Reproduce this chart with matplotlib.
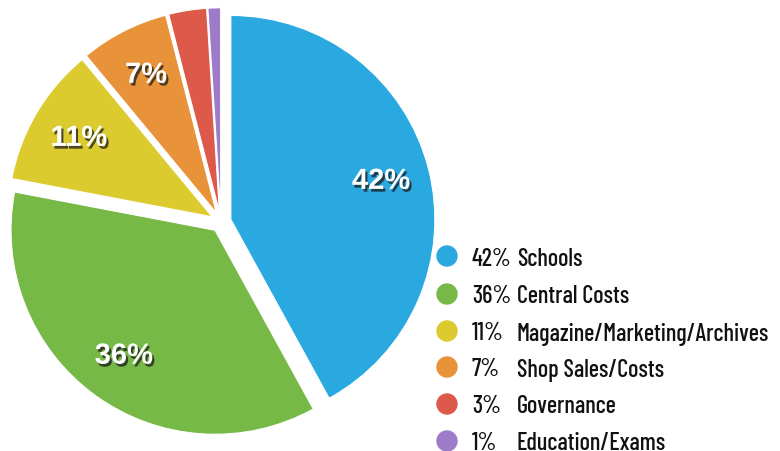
import matplotlib
matplotlib.use("Agg")
import matplotlib.pyplot as plt
import matplotlib.patheffects as pe
from matplotlib.patches import Ellipse

categories = ["Schools", "Central Costs", "Magazine/Marketing/Archives",
              "Shop Sales/Costs", "Governance", "Education/Exams"]
values = [42, 36, 11, 7, 3, 1]
colors = ["#2aa8e0", "#76b947", "#dccb2e", "#e8923a", "#dd5a4a", "#9d7bc9"]

W, H = 780, 452
fig = plt.figure(figsize=(W / 100, H / 100), dpi=100)
ax = fig.add_axes([0, 0, 1, 1])

R = 204.0
cx, cy = 221.0, 223.0  # pixel center (from top)

wedges, texts, autotexts = ax.pie(
    values, colors=colors, startangle=90, counterclock=False,
    explode=[0.05] * len(values), radius=1.0,
    autopct=lambda p: f"{p:.0f}%" if p >= 5 else "", pctdistance=0.76,
    wedgeprops=dict(linewidth=0.8, edgecolor="white"),
    textprops=dict(color="white", fontsize=21, fontweight="bold",
                   family=["Liberation Sans", "DejaVu Sans"]),
)
for t in autotexts:
    t.set_path_effects([pe.SimplePatchShadow(offset=(1.5, -2), shadow_rgbFace="#1a1a1a", alpha=0.75),
                        pe.Normal()])

ax.set_aspect("auto")
ax.set_xlim(-cx / R, (W - cx) / R)
ax.set_ylim(-(H - cy) / R, cy / R)
ax.axis("off")

legend_font = ["Barlow Condensed", "Asap Condensed", "DejaVu Sans"]

ys = [257, 295, 332, 368, 405, 442]
for i, (cat, v) in enumerate(zip(categories, values)):
    y = 1 - ys[i] / H
    fig.patches.append(Ellipse((447 / W, y), 20 / W, 20 / H,
                               transform=fig.transFigure, color=colors[i]))
    fig.text(472 / W, y - 8.5 / H, f"{v}%", fontsize=17.5, family=legend_font,
             fontweight=500, color="#111111", va="baseline", ha="left")
    fig.text(517 / W, y - 8.5 / H, cat, fontsize=17.5, family=legend_font,
             fontweight=500, color="#111111", va="baseline", ha="left")

fig.savefig("out.png", dpi=100)
